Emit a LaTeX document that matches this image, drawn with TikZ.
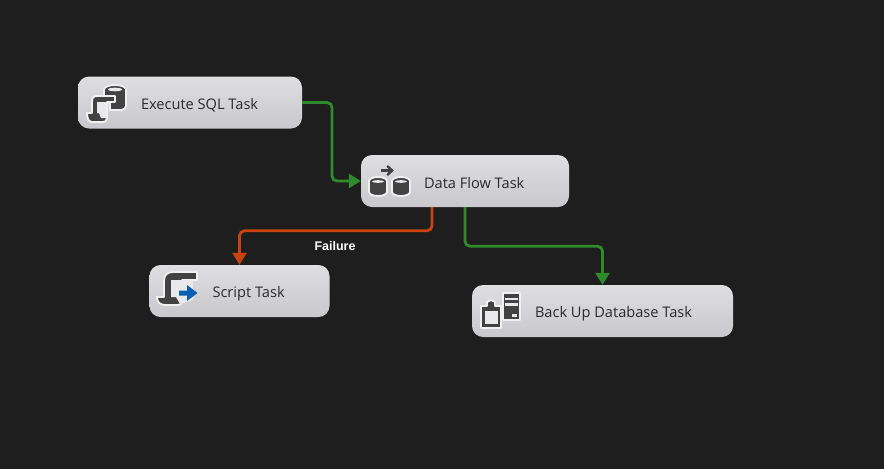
\documentclass[tikz,border=0pt]{standalone}
\usepackage{fontspec}
\setmainfont{Open Sans}
\newfontfamily\failfont{Liberation Sans}
\usetikzlibrary{arrows.meta,calc}
\definecolor{bgdark}{HTML}{1E1E1E}
\definecolor{tasktop}{HTML}{DEDEE1}
\definecolor{taskbot}{HTML}{C9C9CD}
\definecolor{icondark}{HTML}{424242}
\definecolor{halo}{HTML}{F0F0F0}
\definecolor{pagefill}{HTML}{E9E9EC}
\definecolor{okgreen}{HTML}{2F8A2C}
\definecolor{failred}{HTML}{C8430F}
\definecolor{arrowblue}{HTML}{0A5FB0}
\definecolor{labeltext}{HTML}{2A2A2A}
\tikzset{
  taskbox/.style={rectangle,rounded corners=11pt,top color=tasktop,bottom color=taskbot,minimum height=52pt,inner sep=0pt,draw=none},
  tasklabel/.style={anchor=west,inner sep=0pt,yshift=-2.5pt,font=\fontsize{14.6}{17}\selectfont,text=labeltext},
  link/.style={line width=2.8pt,rounded corners=5pt,-{Triangle[length=12pt,width=14pt]}},
  oklink/.style={link,draw=okgreen},
  faillink/.style={link,draw=failred},
  glyph/.style={fill=icondark,draw=halo,line width=1.9pt,line join=round},
  faillabel/.style={inner sep=0pt,text=white,yshift=-0.5pt,font=\failfont\bfseries\fontsize{12.5}{14}\selectfont}
}
\begin{document}
\begin{tikzpicture}[x=1pt,y=-1pt]
\useasboundingbox (0,0) rectangle (884,469);
\fill[bgdark] (0,0) rectangle (884,469);

% task boxes
\node[taskbox,minimum width=224pt] (exec) at (190,102.5) {};
\node[taskbox,minimum width=208pt] (data) at (465,181) {};
\node[taskbox,minimum width=180pt] (script) at (239.5,291) {};
\node[taskbox,minimum width=261pt] (backup) at (602.5,311) {};

\node[tasklabel] (execL) at ([xshift=63pt]exec.west) {Execute SQL Task};
\node[tasklabel] (dataL) at ([xshift=63pt]data.west) {Data Flow Task};
\node[tasklabel] (scriptL) at ([xshift=63pt]script.west) {Script Task};
\node[tasklabel] (backupL) at ([xshift=63pt]backup.west) {Back Up Database Task};

% connectors
\coordinate (bendA) at (332,102.5);
\coordinate (bendB) at (332,181);
\draw[oklink] (exec.east) -- (bendA) -- (bendB) -- (data.west);
\coordinate (failOut) at ($(data.south)+(-33,0)$);
\coordinate (failBend) at ($(script.north)+(0,-34)$);
\draw[faillink] (failOut) |- (failBend) -- (script.north);
\coordinate (okA) at ($(data.south)+(0,39)$);
\draw[oklink] (data.south) -- (okA) -| (backup.north);
\node[faillabel] (failure) at (335,246) {Failure};

% Execute SQL icon
\draw[glyph] (104,89.5) arc[start angle=180,end angle=360,x radius=11,y radius=4.5] -- (126,106) arc[start angle=0,end angle=90,x radius=5,y radius=4] -- (110,110) -- (110,96) -- (104,96) -- cycle;
\fill[pagefill] (108,89.5) arc[start angle=180,end angle=540,x radius=7,y radius=1.8];
\draw[glyph] (92,113) -- (92,102) .. controls (92,98) and (93,96) .. (97,96) -- (115,96) -- (115,102) -- (107,102) -- (107,118) .. controls (107,121) and (105,122) .. (103,122) -- (92,122) .. controls (89,122) and (87,119) .. (87,113) -- cycle;
\fill[pagefill] (97,102) -- (106,102) -- (106,118) -- (101,118) -- (99,113) -- (97,113) -- cycle;

% Data Flow icon
\draw[glyph] (369,181) arc[start angle=180,end angle=360,x radius=9,y radius=4] -- (387,192) arc[start angle=0,end angle=180,x radius=9,y radius=4] -- cycle;
\fill[pagefill] (372,181.5) arc[start angle=180,end angle=540,x radius=6,y radius=1.3];
\draw[glyph] (392,181) arc[start angle=180,end angle=360,x radius=9,y radius=4] -- (410,192) arc[start angle=0,end angle=180,x radius=9,y radius=4] -- cycle;
\fill[pagefill] (395,181.5) arc[start angle=180,end angle=540,x radius=6,y radius=1.3];
\draw[icondark,line width=2.4pt,-{Straight Barb[length=5pt,width=9pt]}] (381,170.5) -- (394,170.5);

% Script icon
\draw[glyph] (164,297) -- (164,281) .. controls (164,275) and (167,272) .. (173,272) -- (197,272) -- (197,280) -- (182,280) -- (182,302) .. controls (182,304) and (180,305) .. (178,305) -- (165,305) .. controls (160,305) and (157,302) .. (157,297) -- cycle;
\fill[pagefill] (171,280) -- (193,280) -- (193,300) -- (180,304) -- (176,297) -- (171,297) -- cycle;
\fill[arrowblue] (179,290.5) -- (187,290.5) -- (187,285) -- (197.5,293) -- (187,301) -- (187,295.5) -- (179,295.5) -- cycle;

% Back Up icon
\draw[glyph] (481,306) -- (487,306) -- (487,302) -- (491,300) -- (495,302) -- (495,306) -- (501,306) -- (501,328) -- (481,328) -- cycle;
\fill[pagefill] (485,311) rectangle (497.5,324);
\draw[glyph] (503,293) rectangle (520,320);
\fill[pagefill] (505,297.5) rectangle (518,300);
\fill[pagefill] (505,303) rectangle (518,305.5);
\fill[pagefill] (512,314) rectangle (517,316.5);
\end{tikzpicture}
\end{document}
